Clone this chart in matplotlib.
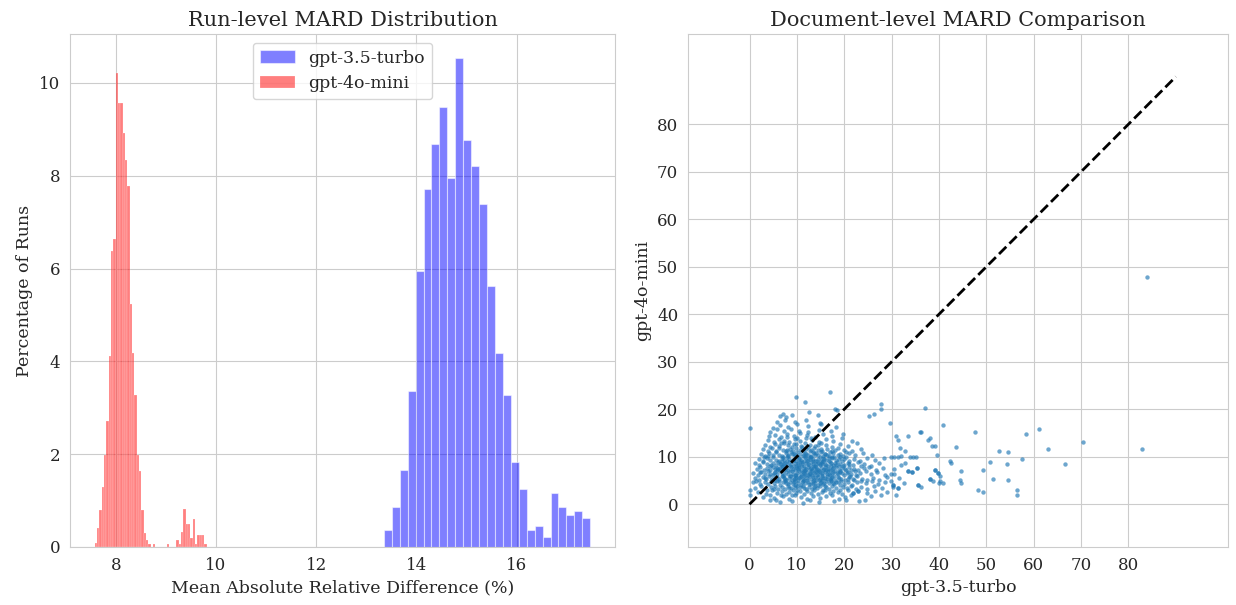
import numpy as np
import matplotlib
matplotlib.use("Agg")
import matplotlib.pyplot as plt
import seaborn as sns

# run-level MARD histograms (percent of runs per bin)
red_start, red_width = 7.58, 0.0465
red_pct = [0.08, 0.40, 0.80, 1.30, 1.99, 2.71, 4.11, 6.38, 6.63, 10.22,
           9.57, 9.57, 8.92, 8.34, 7.77, 5.23, 4.17, 3.28, 1.99, 1.63,
           0.80, 0.30, 0.15, 0.06, 0.0, 0.06, 0.0, 0.0, 0.0, 0.0,
           0.0, 0.06, 0.0, 0.0, 0.0, 0.15, 0.06, 0.32, 0.82, 0.50,
           0.50, 0.20, 0.60, 0.06, 0.25, 0.25, 0.25, 0.06]
blue_start, blue_width = 13.35, 0.1585
blue_pct = [0.37, 0.86, 1.66, 3.37, 5.95, 7.71, 8.68, 9.49, 7.95, 10.53,
            8.77, 8.21, 7.40, 5.62, 4.18, 3.28, 1.84, 1.26, 0.37, 0.45,
            0.22, 1.17, 0.86, 0.69, 0.78, 0.62]

# document-level MARD (gpt-3.5-turbo, gpt-4o-mini)
doc_pts = [
    (4.3, 0.8), (5.6, 0.9), (6.5, 0.5), (8.9, 0.6), (11.2, 0.3), (12.8, 0.9), (14.6, 0.4), (17.9, 0.7),
    (20.4, 0.9), (23.1, 0.7), (24.3, 0.9),
    (2.9, 1.6), (4.3, 2.0), (5.2, 1.4), (7.1, 1.8), (8.4, 1.2), (9.7, 1.9), (10.8, 1.5), (12.1, 1.1),
    (13.5, 1.8), (14.9, 1.3), (16.2, 1.7), (17.4, 1.9), (18.8, 1.2), (20.1, 1.6), (21.5, 1.9), (25.7, 1.7),
    (27.8, 2.0), (31.0, 2.0),
    (1.8, 2.6), (3.4, 2.2), (4.8, 2.9), (5.9, 2.4), (6.8, 2.8), (7.6, 2.1), (8.3, 2.6), (9.1, 2.9),
    (9.9, 2.3), (10.6, 2.7), (11.4, 2.2), (12.2, 2.8), (12.9, 2.4), (13.7, 2.9), (14.4, 2.1), (15.2, 2.6),
    (16.0, 2.9), (16.9, 2.3), (17.7, 2.8), (18.6, 2.5), (19.5, 2.2), (20.7, 2.9), (21.9, 2.3), (22.9, 2.8),
    (24.8, 2.4), (26.5, 2.7), (29.1, 2.6),
    (1.2, 3.4), (2.5, 3.8), (3.6, 3.1), (4.5, 3.6), (5.3, 3.9), (6.1, 3.3), (6.9, 3.7), (7.5, 3.2),
    (8.2, 3.9), (8.8, 3.4), (9.5, 3.7), (10.1, 3.1), (10.7, 3.6), (11.3, 3.9), (11.9, 3.3), (12.5, 3.7),
    (13.1, 3.2), (13.8, 3.8), (14.3, 3.4), (14.9, 3.9), (15.6, 3.1), (16.2, 3.6), (16.8, 3.3), (17.5, 3.9),
    (18.2, 3.5), (19.0, 3.1), (19.8, 3.7), (20.6, 3.4), (21.5, 3.9), (22.4, 3.2), (23.6, 3.6), (24.9, 3.3),
    (26.3, 3.8), (28.0, 3.4), (30.3, 3.7), (31.3, 3.4),
    (0.8, 4.6), (1.4, 4.8), (2.3, 4.2), (3.2, 4.7), (3.9, 4.3), (4.6, 4.9), (5.2, 4.4), (5.8, 4.8),
    (6.4, 4.1), (7.0, 4.6), (7.5, 4.9), (8.1, 4.3), (8.6, 4.7), (9.2, 4.2), (9.7, 4.8), (10.3, 4.5),
    (10.8, 4.1), (11.3, 4.9), (11.8, 4.4), (12.4, 4.7), (12.9, 4.2), (13.4, 4.8), (13.9, 4.5), (14.5, 4.1),
    (15.0, 4.7), (15.6, 4.3), (16.1, 4.9), (16.7, 4.4), (17.3, 4.8), (17.9, 4.2), (18.6, 4.6), (19.3, 4.9),
    (20.0, 4.3), (20.8, 4.7), (21.7, 4.1), (22.6, 4.6), (23.5, 4.9), (24.6, 4.4), (25.8, 4.8), (27.1, 4.2),
    (28.7, 4.6), (30.3, 4.1), (32.6, 4.5), (35.6, 4.1),
    (1.1, 5.5), (2.0, 5.2), (2.8, 5.8), (3.5, 5.3), (4.1, 5.9), (4.7, 5.4), (5.3, 5.1), (5.8, 5.7),
    (6.3, 5.3), (6.8, 5.9), (7.3, 5.5), (7.8, 5.1), (8.3, 5.6), (8.8, 5.9), (9.3, 5.3), (9.8, 5.7),
    (10.2, 5.2), (10.7, 5.8), (11.2, 5.4), (11.6, 5.1), (12.1, 5.6), (12.6, 5.9), (13.0, 5.3), (13.5, 5.7),
    (14.0, 5.2), (14.4, 5.8), (14.9, 5.4), (15.4, 5.1), (15.9, 5.6), (16.4, 5.9), (16.9, 5.3), (17.5, 5.7),
    (18.1, 5.2), (18.7, 5.8), (19.4, 5.4), (20.1, 5.1), (20.9, 5.7), (21.8, 5.3), (22.7, 5.9), (23.7, 5.4),
    (24.8, 5.1), (26.0, 5.6), (27.4, 5.2), (29.0, 5.8), (31.6, 5.5), (38.0, 5.3),
    (0.8, 6.5), (1.7, 6.2), (2.5, 6.8), (3.2, 6.3), (3.8, 6.9), (4.4, 6.4), (4.9, 6.1), (5.4, 6.7),
    (5.9, 6.3), (6.4, 6.9), (6.8, 6.5), (7.3, 6.1), (7.7, 6.7), (8.2, 6.3), (8.6, 6.9), (9.1, 6.4),
    (9.5, 6.1), (10.0, 6.6), (10.4, 6.9), (10.9, 6.3), (11.3, 6.7), (11.8, 6.2), (12.2, 6.8), (12.7, 6.4),
    (13.1, 6.1), (13.6, 6.6), (14.0, 6.9), (14.5, 6.3), (14.9, 6.7), (15.4, 6.2), (15.9, 6.8), (16.4, 6.4),
    (16.9, 6.1), (17.4, 6.6), (18.0, 6.9), (18.6, 6.3), (19.2, 6.7), (19.9, 6.2), (20.7, 6.8), (21.5, 6.4),
    (22.4, 6.1), (23.4, 6.6), (24.5, 6.9), (25.7, 6.3), (27.0, 6.7), (28.6, 6.2), (29.9, 6.3), (30.5, 6.3),
    (33.5, 7.0), (34.2, 6.7), (39.8, 6.5),
    (1.5, 7.4), (2.3, 7.8), (3.0, 7.2), (3.7, 7.7), (4.3, 7.3), (4.9, 7.9), (5.4, 7.4), (5.9, 7.1),
    (6.4, 7.6), (6.9, 7.9), (7.3, 7.3), (7.8, 7.7), (8.2, 7.2), (8.7, 7.8), (9.1, 7.4), (9.6, 7.1),
    (10.0, 7.6), (10.5, 7.9), (10.9, 7.3), (11.4, 7.7), (11.8, 7.2), (12.3, 7.8), (12.7, 7.4), (13.2, 7.1),
    (13.6, 7.6), (14.1, 7.9), (14.5, 7.3), (15.0, 7.7), (15.5, 7.2), (16.0, 7.8), (16.5, 7.4), (17.0, 7.1),
    (17.6, 7.6), (18.2, 7.9), (18.8, 7.3), (19.5, 7.7), (20.3, 7.2), (21.1, 7.8), (22.0, 7.4), (23.0, 7.1),
    (24.1, 7.6), (25.3, 7.9), (26.6, 7.3), (28.2, 7.7), (30.4, 7.4), (35.4, 7.6), (39.2, 7.2), (44.6, 6.9),
    (1.2, 8.7), (2.1, 8.3), (2.9, 8.9), (3.6, 8.4), (4.3, 8.1), (4.9, 8.6), (5.5, 8.2), (6.0, 8.8),
    (6.5, 8.4), (7.0, 8.1), (7.5, 8.7), (7.9, 8.3), (8.4, 8.9), (8.8, 8.5), (9.3, 8.1), (9.7, 8.6),
    (10.2, 8.2), (10.6, 8.8), (11.1, 8.4), (11.5, 8.1), (12.0, 8.7), (12.5, 8.3), (12.9, 8.9), (13.4, 8.5),
    (13.9, 8.1), (14.4, 8.6), (14.9, 8.2), (15.4, 8.8), (15.9, 8.4), (16.5, 8.1), (17.1, 8.7), (17.7, 8.3),
    (18.4, 8.9), (19.1, 8.5), (19.9, 8.2), (20.8, 8.7), (21.8, 8.3), (22.9, 8.8), (24.1, 8.4), (25.6, 8.1),
    (27.3, 8.6), (32.0, 8.3), (32.8, 8.6), (42.3, 9.0), (42.6, 8.6), (54.3, 8.5), (66.6, 8.4),
    (1.9, 9.6), (2.8, 9.2), (3.6, 9.8), (4.3, 9.3), (5.0, 9.9), (5.6, 9.4), (6.2, 9.1), (6.8, 9.7),
    (7.3, 9.3), (7.9, 9.9), (8.4, 9.5), (8.9, 9.1), (9.4, 9.6), (9.9, 9.2), (10.4, 9.8), (10.9, 9.4),
    (11.4, 9.1), (11.9, 9.7), (12.4, 9.3), (12.9, 9.9), (13.4, 9.5), (13.9, 9.1), (14.5, 9.6), (15.0, 9.2),
    (15.6, 9.8), (16.2, 9.4), (16.8, 9.1), (17.5, 9.7), (18.2, 9.3), (19.0, 9.9), (19.9, 9.5), (20.9, 9.1),
    (22.0, 9.6), (23.3, 9.2), (24.8, 9.8), (26.5, 9.4), (28.4, 9.7), (29.9, 10.0), (30.6, 9.9), (31.4, 10.0),
    (32.0, 10.1), (50.8, 8.9), (57.6, 9.6), (39.6, 10.4),
    (2.4, 10.5), (3.3, 10.2), (4.1, 10.8), (4.9, 10.3), (5.6, 10.9), (6.3, 10.4), (6.9, 10.1), (7.6, 10.7),
    (8.2, 10.3), (8.8, 10.9), (9.4, 10.5), (10.0, 10.1), (10.6, 10.6), (11.2, 10.2), (11.8, 10.8), (12.4, 10.4),
    (13.0, 10.1), (13.7, 10.7), (14.4, 10.3), (15.1, 10.9), (15.9, 10.5), (16.7, 10.2), (17.6, 10.8), (18.6, 10.4),
    (19.7, 10.1), (20.9, 10.7), (22.3, 10.3), (23.9, 10.8), (25.8, 10.4), (33.8, 10.0), (34.5, 10.0), (35.2, 10.0),
    (54.5, 10.9),
    (2.8, 11.6), (3.8, 11.2), (4.7, 11.8), (5.5, 11.3), (6.3, 11.9), (7.0, 11.4), (7.8, 11.1), (8.5, 11.7),
    (9.2, 11.3), (9.9, 11.9), (10.6, 11.5), (11.3, 11.1), (12.0, 11.6), (12.8, 11.2), (13.6, 11.8), (14.4, 11.4),
    (15.3, 11.1), (16.3, 11.7), (17.4, 11.3), (18.6, 11.9), (20.0, 11.5), (21.6, 11.2), (23.5, 11.7), (31.7, 11.8),
    (32.8, 11.1), (52.7, 11.3), (63.1, 11.6), (82.8, 11.7),
    (3.3, 12.5), (4.4, 12.1), (5.4, 12.7), (6.3, 12.3), (7.2, 12.9), (8.1, 12.4), (9.0, 12.1), (9.9, 12.7),
    (10.8, 12.3), (11.8, 12.9), (12.8, 12.5), (13.9, 12.2), (15.0, 12.8), (16.2, 12.4), (17.5, 12.1), (19.0, 12.7),
    (20.7, 12.3), (22.6, 12.8), (38.6, 12.3), (39.1, 12.3), (43.5, 12.0),
    (3.9, 13.6), (5.1, 13.2), (6.2, 13.8), (7.3, 13.4), (8.4, 13.1), (9.5, 13.7), (10.7, 13.3), (11.9, 13.9),
    (13.2, 13.5), (14.6, 13.1), (16.1, 13.7), (17.7, 13.3), (19.5, 13.9), (21.6, 13.4), (31.4, 13.5), (37.7, 13.5),
    (38.0, 14.0), (70.3, 13.1),
    (4.2, 14.4), (5.4, 14.6), (6.7, 14.2), (8.0, 14.8), (9.3, 14.3), (10.7, 14.9), (12.2, 14.5), (13.8, 14.1),
    (15.6, 14.7), (17.5, 14.3), (19.8, 14.8), (31.0, 14.4), (33.5, 14.4), (35.9, 15.2), (36.3, 15.1), (47.7, 15.2),
    (58.3, 14.8),
    (4.3, 15.3), (5.7, 15.8), (7.2, 15.4), (8.8, 15.9), (10.5, 15.5), (12.4, 15.2), (14.6, 15.7), (17.2, 15.4),
    (0.0, 16.0), (61.1, 15.8),
    (4.9, 16.0), (6.4, 16.6), (8.1, 16.2), (10.0, 16.8), (12.3, 16.4), (15.1, 16.9), (18.2, 16.3), (29.6, 17.0),
    (40.8, 16.7),
    (5.8, 17.4), (7.5, 17.8), (9.6, 17.3), (11.9, 17.7), (14.8, 17.2),
    (6.5, 18.5), (7.8, 18.3), (8.9, 18.8), (14.4, 18.8), (25.2, 18.6), (26.2, 18.9),
    (7.1, 19.0), (12.6, 19.4), (18.1, 20.1), (18.5, 19.9), (27.8, 20.0), (27.8, 21.1), (37.0, 20.3), (11.7, 21.6),
    (9.8, 22.5), (17.0, 23.6), (83.9, 47.9),
    (40.2, 6.0), (40.2, 4.8), (40.8, 4.4), (44.4, 5.0), (44.6, 4.4), (49.2, 7.3), (48.2, 3.0), (49.3, 2.5),
    (51.5, 5.3), (54.6, 5.2), (56.4, 2.9), (56.4, 2.0), (0.0, 3.0), (0.0, 2.0), (33.5, 7.0), (38.7, 4.8),
    (38.0, 5.3), (40.1, 4.5), (35.6, 4.1), (36.3, 3.7), (29.9, 4.8), (30.3, 4.1), (31.3, 3.4), (21.9, 2.3),
    (22.9, 2.8), (39.2, 7.2), (39.8, 6.5), (35.4, 7.6), (34.2, 6.7),
    # denser core
    (7.7, 4.4), (8.9, 5.0), (9.6, 4.0), (10.5, 5.5), (11.0, 4.6), (11.6, 6.0), (12.2, 5.0), (12.8, 6.5),
    (13.3, 4.5), (13.7, 5.2), (14.2, 6.2), (14.7, 5.0), (15.2, 6.0), (15.7, 4.5), (16.3, 5.3), (16.7, 6.4),
    (17.2, 5.0), (17.8, 6.0), (18.3, 4.6), (18.9, 5.5), (19.6, 6.5), (8.5, 6.0), (9.0, 7.0), (9.8, 6.2),
    (10.3, 7.4), (10.8, 8.0), (11.5, 6.5), (11.9, 7.5), (12.4, 8.5), (12.9, 7.0), (13.4, 8.0), (13.9, 6.8),
    (14.3, 7.5), (14.8, 8.4), (15.3, 6.6), (15.7, 7.4), (16.2, 8.2), (16.6, 7.0), (17.1, 8.0), (17.7, 6.8),
    (18.3, 8.2), (19.0, 7.0), (19.7, 8.0), (20.5, 6.5), (7.3, 8.4), (8.0, 9.0), (8.6, 8.0), (9.2, 9.3),
    (9.9, 8.0), (10.5, 9.5), (11.1, 8.8), (11.7, 9.9), (12.2, 9.0), (12.8, 10.0), (13.3, 9.2), (13.8, 10.4),
    (14.3, 9.0), (14.8, 10.0), (15.3, 8.5), (15.8, 9.5), (16.3, 10.3), (16.9, 8.9), (17.5, 9.9), (18.1, 8.6),
    (18.8, 9.6), (6.1, 7.5), (6.6, 8.5), (5.2, 6.5), (5.7, 7.6), (7.0, 6.0), (7.5, 5.4), (6.2, 4.8),
    (20.1, 7.5), (21.2, 6.0), (21.0, 8.4), (22.3, 7.0), (23.5, 8.0), (22.0, 5.0), (10.0, 11.0), (11.0, 12.0),
    (12.0, 10.6), (13.0, 11.4), (14.0, 10.8), (15.0, 11.6), (16.0, 10.6), (9.0, 10.6), (8.0, 11.5), (7.0, 10.0),
    (17.0, 11.0), (19.0, 10.5),
    (8.4, 3.5), (9.3, 4.6), (10.1, 3.8), (11.6, 3.5), (12.6, 4.3), (13.6, 3.6), (14.8, 4.4), (16.0, 3.9),
    (17.6, 4.4), (19.2, 4.0), (20.7, 5.4), (21.4, 7.1), (9.5, 5.6), (10.9, 6.0), (12.4, 6.1), (13.8, 5.8),
    (15.6, 5.6), (17.1, 5.6), (18.5, 6.6), (19.6, 9.0), (11.6, 7.0), (13.0, 7.7), (14.6, 6.9), (16.1, 7.1),
    (17.4, 7.4), (18.9, 8.1), (20.4, 9.9), (10.3, 8.6), (12.7, 9.6), (14.1, 8.4), (15.5, 9.1), (16.8, 9.7),
    (17.9, 10.0), (6.9, 9.0), (8.1, 10.2), (9.6, 10.3), (11.4, 10.4), (13.4, 10.9), (15.5, 10.2), (18.1, 11.4),
    (20.4, 11.0), (6.6, 12.8), (9.4, 12.6), (12.3, 12.1), (14.5, 12.4), (7.9, 14.1), (10.1, 13.9), (12.9, 14.0),
    (3.1, 9.9), (4.0, 10.1), (2.2, 6.7), (3.3, 5.6), (4.6, 8.2), (5.1, 3.2), (6.6, 2.0), (8.9, 2.0),
]
gpt35_doc = np.array([p[0] for p in doc_pts])
gpt4o_doc = np.array([p[1] for p in doc_pts])
diag_max = 90

sns.set_style("whitegrid")
plt.rcParams['font.family'] = ['DejaVu Serif']

fig = plt.figure(figsize=(12.36, 6.05), dpi=100)
ax1 = fig.add_axes([0.0566, 0.0959, 0.441, 0.848])
ax2 = fig.add_axes([0.5566, 0.0959, 0.4369, 0.848])

# left: run-level histograms
blue_edges = blue_start + blue_width * np.arange(len(blue_pct) + 1)
red_edges = red_start + red_width * np.arange(len(red_pct) + 1)
ax1.hist(blue_edges[:-1] + blue_width / 2, bins=blue_edges, weights=blue_pct,
         color='blue', alpha=0.5, edgecolor='white', linewidth=0.8, label='gpt-3.5-turbo')
ax1.hist(red_edges[:-1] + red_width / 2, bins=red_edges, weights=red_pct,
         color='red', alpha=0.5, edgecolor='white', linewidth=0.3, label='gpt-4o-mini')
ax1.set_xticks([8, 10, 12, 14, 16])
ax1.set_yticks([0, 2, 4, 6, 8, 10])
ax1.set_title('Run-level MARD Distribution', fontsize=15)
ax1.set_xlabel('Mean Absolute Relative Difference (%)', fontsize=12.5)
ax1.set_ylabel('Percentage of Runs', fontsize=12.5)
ax1.tick_params(labelsize=12)
ax1.legend(loc='upper center', fontsize=12.5)

# right: document-level scatter
ax2.scatter(gpt35_doc, gpt4o_doc, s=10, alpha=0.65, color='#1f77b4', linewidths=0)
ax2.plot([0, diag_max], [0, diag_max], 'k--', linewidth=2)
ax2.set_xlim(-13, 101)
ax2.set_ylim(-9, 99)
ax2.set_xticks(range(0, 90, 10))
ax2.set_yticks(range(0, 90, 10))
ax2.set_title('Document-level MARD Comparison', fontsize=15)
ax2.set_xlabel('gpt-3.5-turbo', fontsize=12.5)
ax2.set_ylabel('gpt-4o-mini', fontsize=12.5)
ax2.tick_params(labelsize=12)

fig.savefig('out.png', dpi=100)
